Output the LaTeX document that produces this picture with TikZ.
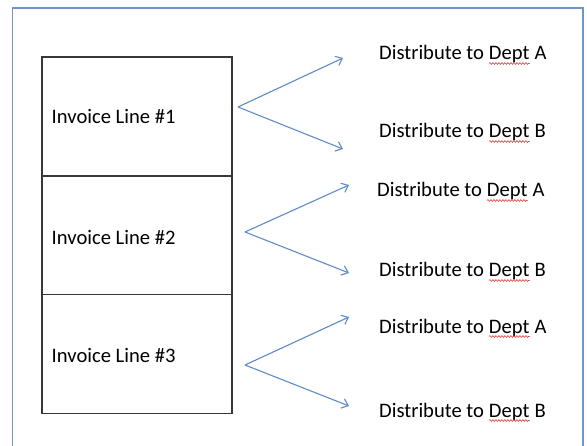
\documentclass[tikz,border=0pt]{standalone}
\usepackage{fontspec}
\setmainfont{Carlito}
\usetikzlibrary{arrows.meta,decorations.pathmorphing}

\definecolor{framecol}{RGB}{110,150,205}
\definecolor{arrowcol}{RGB}{95,138,200}
\definecolor{boxcol}{RGB}{55,55,55}
\definecolor{squigcol}{RGB}{220,60,60}

% red wavy spell-check underline under a word
\newcommand\squig[1]{\tikz[baseline=(w.base)]{%
  \node[anchor=base,inner sep=0pt,outer sep=0pt,draw=none] (w) {#1};%
  \draw[squigcol,line width=0.6bp,decorate,
    decoration={snake,amplitude=0.9bp,segment length=3bp}]
    ([yshift=-3.5bp]w.base west) -- ([yshift=-3.5bp]w.base east);}}

\tikzset{
  linebox/.style={draw=boxcol, line width=1.4bp, minimum width=190bp,
    minimum height=118.7bp, inner sep=0pt, outer sep=0pt},
  txt/.style={anchor=base west, inner sep=0pt, text=black,
    font=\fontsize{20.6bp}{25bp}\selectfont},
  flow/.style={draw=arrowcol, line width=1.1bp,
    -{Straight Barb[length=6bp,width=10bp]}},
  frame/.style={draw=framecol, line width=1.3bp}
}

\begin{document}
\begin{tikzpicture}[x=1bp,y=-1bp]
\useasboundingbox (0,0) rectangle (587,446);

% outer frame, open at the bottom
\draw[frame] (12.5,460) -- (12.5,8) -- (583,8) -- (583,460);

% stacked invoice lines
\node[linebox] (box1) at (137,116.5) {};
\node[linebox] (box2) at (137,235.2) {};
\node[linebox] (box3) at (137,353.9) {};

\node[txt] (inv1) at (51.5,124) {Invoice Line \#1};
\node[txt] (inv2) at (51.5,245) {Invoice Line \#2};
\node[txt] (inv3) at (51.5,362) {Invoice Line \#3};

% distribution targets
\node[txt] (d1a) at (379,60)  {Distribute to \squig{Dept} A};
\node[txt] (d1b) at (379,138) {Distribute to \squig{Dept} B};
\node[txt] (d2a) at (377,197) {Distribute to \squig{Dept} A};
\node[txt] (d2b) at (379,277) {Distribute to \squig{Dept} B};
\node[txt] (d3a) at (379,333) {Distribute to \squig{Dept} A};
\node[txt] (d3b) at (379,417) {Distribute to \squig{Dept} B};

% fork points and arrow ends
\coordinate (f1) at (238,107);
\coordinate (t1a) at (343,58);
\coordinate (t1b) at (343,149);
\coordinate (f2) at (245,232);
\coordinate (t2a) at (349,185);
\coordinate (t2b) at (349,273);
\coordinate (f3) at (245,365);
\coordinate (t3a) at (349,317);
\coordinate (t3b) at (349,406);

\draw[flow] (f1) -- (t1a);
\draw[flow] (f1) -- (t1b);
\draw[flow] (f2) -- (t2a);
\draw[flow] (f2) -- (t2b);
\draw[flow] (f3) -- (t3a);
\draw[flow] (f3) -- (t3b);
\end{tikzpicture}
\end{document}
